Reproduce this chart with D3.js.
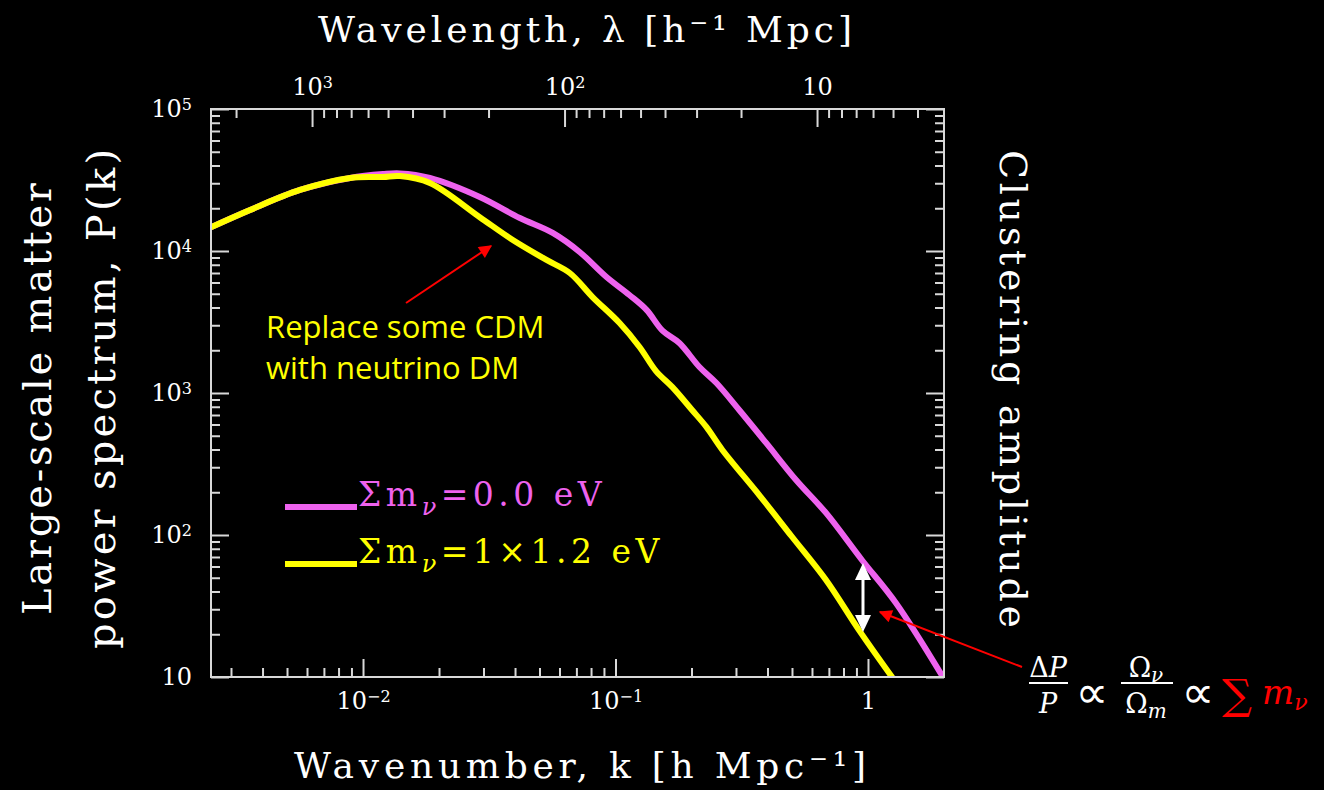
<!DOCTYPE html>
<html lang="en">
<head>
  <meta charset="UTF-8">
  <title>Matter power spectrum</title>
  <script src="https://d3js.org/d3.v7.min.js"></script>
</head>
<style>
  body{
    margin:0;
    background:#000;
  }
</style>
<body>
<div id="chart"></div>
<script>
// power spectrum, k in h/Mpc, P(k)
var kNoNu = [0.00251,0.00357,0.00563,0.00889,0.0120,0.0140,0.0184,0.0290,0.0418,0.0564,0.0721,0.0921,0.1135,0.1327,0.1535,0.179,0.215,0.251,0.309,0.395,0.519,0.682,0.946,1.29,1.98];
var pNoNu = [14750,19450,26900,32700,34800,35200,32700,24000,17060,13400,9840,6560,4900,3850,2750,2250,1525,1175,759,445,244,143,66.7,33.2,10];

var kNu = [0.00251,0.00357,0.00563,0.00889,0.0120,0.0140,0.0184,0.0290,0.0392,0.0533,0.0659,0.0811,0.1038,0.1245,0.145,0.168,0.201,0.229,0.265,0.371,0.501,0.682,0.921,1.245];
var pNu = [14750,19450,26900,32700,33200,33700,30100,17300,11950,8650,7000,4740,3110,2110,1420,1100,759,577,397,191,96.8,48.2,21.4,10];

var seriesNames = ["\u03a3m", "\u03a3m"];
var seriesTails = ["=0.0 eV", "=1\u00d71.2 eV"];
var seriesColours = ["#ee62ee", "#ffff00"];

// tick values, labels as [mantissa, exponent]
var kMajor = [0.01, 0.1, 1];
var kMajorLabels = [["10", "\u22122"], ["10", "\u22121"], ["1", ""]];
var lamMajor = [1000, 100, 10];
var lamMajorLabels = [["10", "3"], ["10", "2"], ["10", ""]];
var pMajor = [10, 100, 1000, 10000, 100000];
var pMajorLabels = [["10", ""], ["10", "2"], ["10", "3"], ["10", "4"], ["10", "5"]];

function minors(lo, hi){
  var out = [];
  for (var e = -4; e <= 5; e++){
    for (var m = 2; m <= 9; m++){
      var v = m * Math.pow(10, e);
      if (v > lo && v < hi) out.push(v);
    }
  }
  return out;
}

var width = 1324, height = 790;
// plot frame (don't call these top/left, window.top is taken)
var fLeft = 211, fRight = 944, fTop = 109, fBottom = 677;
var axisColour = "#d9d9d9";
var serif = "DejaVu Serif";

var svg = d3.select("#chart").append("svg")
  .attr("width", width)
  .attr("height", height)
  .attr("font-family", serif)
  .style("background", "#000");

var kMin = 0.0025, kMax = 2;
var x = d3.scaleLog().domain([kMin, kMax]).range([fLeft, fRight]);
var xTop = d3.scaleLog().domain([2*Math.PI/kMin, 2*Math.PI/kMax]).range([fLeft, fRight]);
var y = d3.scaleLog().domain([10, 100000]).range([fBottom, fTop]);

// clip the curves to the frame
svg.append("clipPath").attr("id", "frameClip")
  .append("rect")
    .attr("x", fLeft).attr("y", fTop)
    .attr("width", fRight - fLeft).attr("height", fBottom - fTop);

var line = d3.line()
  .x(function(d){ return x(d[0]); })
  .y(function(d){ return y(d[1]); })
  .curve(d3.curveCatmullRom.alpha(0.5));

var curves = [d3.zip(kNoNu, pNoNu), d3.zip(kNu, pNu)];
svg.append("g").attr("clip-path", "url(#frameClip)")
  .selectAll("path")
  .data(curves)
  .enter().append("path")
    .attr("d", line)
    .attr("fill", "none")
    .attr("stroke", function(d, i){ return seriesColours[i]; })
    .attr("stroke-width", 6)
    .attr("stroke-linecap", "round");

// axes: ticks point inward
function styleAxis(g){
  g.select(".domain").remove();
  g.selectAll("line").attr("stroke", axisColour).attr("stroke-width", 2);
  g.selectAll("text").attr("fill", "#ffffff").attr("font-family", serif).attr("font-size", 24);
}
// swap plain labels for mantissa + raised exponent
function powerLabels(labels){
  return function(g){
    g.selectAll(".tick text").each(function(d, i){
      var t = d3.select(this).text("");
      t.append("tspan").text(labels[i][0]);
      if (labels[i][1]) {
        t.append("tspan").attr("dy", "-0.45em").attr("font-size", 16).text(labels[i][1]);
      }
    });
  };
}
function noLabel(){ return ""; }

// bottom
svg.append("g").attr("transform", "translate(0," + fBottom + ")")
  .call(d3.axisBottom(x).tickValues(minors(kMin, kMax)).tickSizeInner(-9).tickSizeOuter(0).tickFormat(noLabel))
  .call(styleAxis);
svg.append("g").attr("transform", "translate(0," + fBottom + ")")
  .call(d3.axisBottom(x).tickValues(kMajor).tickSizeInner(-18).tickSizeOuter(0).tickPadding(15))
  .call(styleAxis)
  .call(powerLabels(kMajorLabels));

// top (wavelength)
svg.append("g").attr("transform", "translate(0," + fTop + ")")
  .call(d3.axisTop(xTop).tickValues(minors(2*Math.PI/kMax, 2*Math.PI/kMin)).tickSizeInner(-9).tickSizeOuter(0).tickFormat(noLabel))
  .call(styleAxis);
svg.append("g").attr("transform", "translate(0," + fTop + ")")
  .call(d3.axisTop(xTop).tickValues(lamMajor).tickSizeInner(-18).tickSizeOuter(0).tickPadding(14))
  .call(styleAxis)
  .call(powerLabels(lamMajorLabels));

// left
svg.append("g").attr("transform", "translate(" + fLeft + ",0)")
  .call(d3.axisLeft(y).tickValues(minors(10, 100000)).tickSizeInner(-9).tickSizeOuter(0).tickFormat(noLabel))
  .call(styleAxis);
svg.append("g").attr("transform", "translate(" + fLeft + ",0)")
  .call(d3.axisLeft(y).tickValues(pMajor).tickSizeInner(-18).tickSizeOuter(0).tickPadding(19))
  .call(styleAxis)
  .call(powerLabels(pMajorLabels));

// right (no labels)
svg.append("g").attr("transform", "translate(" + fRight + ",0)")
  .call(d3.axisRight(y).tickValues(minors(10, 100000)).tickSizeInner(-9).tickSizeOuter(0).tickFormat(noLabel))
  .call(styleAxis);
svg.append("g").attr("transform", "translate(" + fRight + ",0)")
  .call(d3.axisRight(y).tickValues(pMajor).tickSizeInner(-18).tickSizeOuter(0).tickFormat(noLabel))
  .call(styleAxis);

// frame
svg.append("rect")
  .attr("x", fLeft).attr("y", fTop)
  .attr("width", fRight - fLeft).attr("height", fBottom - fTop)
  .attr("fill", "none")
  .attr("stroke", axisColour)
  .attr("stroke-width", 2);

// axis titles
svg.append("text")
  .attr("x", 585).attr("y", 42)
  .attr("text-anchor", "middle")
  .attr("fill", "#fff").attr("font-size", 36)
  .attr("textLength", 534).attr("lengthAdjust", "spacing")
  .text("Wavelength, \u03bb [h\u207b\u00b9 Mpc]");

svg.append("text")
  .attr("x", 580).attr("y", 778)
  .attr("text-anchor", "middle")
  .attr("fill", "#fff").attr("font-size", 36)
  .attr("textLength", 572).attr("lengthAdjust", "spacing")
  .text("Wavenumber, k [h Mpc\u207b\u00b9]");

svg.append("text")
  .attr("transform", "translate(51,399) rotate(-90)")
  .attr("text-anchor", "middle")
  .attr("fill", "#fff").attr("font-size", 40)
  .attr("textLength", 432).attr("lengthAdjust", "spacing")
  .text("Large-scale matter");

svg.append("text")
  .attr("transform", "translate(115,399) rotate(-90)")
  .attr("text-anchor", "middle")
  .attr("fill", "#fff").attr("font-size", 40)
  .attr("textLength", 500).attr("lengthAdjust", "spacing")
  .text("power spectrum, P(k)");

svg.append("text")
  .attr("transform", "translate(1000,389) rotate(90)")
  .attr("text-anchor", "middle")
  .attr("fill", "#fff").attr("font-size", 38)
  .attr("textLength", 478).attr("lengthAdjust", "spacing")
  .text("Clustering amplitude");

// legend
var legendY = [507, 564];
var legend = svg.selectAll(".legend")
  .data(seriesNames)
  .enter().append("g").attr("class", "legend");
legend.append("line")
  .attr("x1", 285).attr("x2", 357)
  .attr("y1", function(d, i){ return legendY[i]; })
  .attr("y2", function(d, i){ return legendY[i]; })
  .attr("stroke", function(d, i){ return seriesColours[i]; })
  .attr("stroke-width", 6);
var legendText = legend.append("text")
  .attr("x", 358)
  .attr("y", function(d, i){ return legendY[i] - 1; })
  .attr("fill", function(d, i){ return seriesColours[i]; })
  .attr("font-size", 33)
  .attr("letter-spacing", 4.5);
legendText.append("tspan").text(function(d){ return d; });
legendText.append("tspan").attr("dy", 9).attr("font-size", 24).attr("font-style", "italic").text("\u03bd");
legendText.append("tspan").attr("dy", -9).text(function(d, i){ return seriesTails[i]; });

// annotation text
var note = svg.append("text")
  .attr("fill", "#ffff00")
  .attr("font-family", "Open Sans")
  .attr("font-size", 31);
note.append("tspan").attr("x", 266).attr("y", 338).text("Replace some CDM");
note.append("tspan").attr("x", 266).attr("y", 379).text("with neutrino DM");

// arrows
var defs = svg.append("defs");
defs.append("marker")
  .attr("id", "redHead")
  .attr("viewBox", "0 0 10 10")
  .attr("refX", 9).attr("refY", 5)
  .attr("markerWidth", 16).attr("markerHeight", 13)
  .attr("markerUnits", "userSpaceOnUse")
  .attr("orient", "auto")
  .append("path").attr("d", "M0,0 L10,5 L0,10 Z").attr("fill", "#ff0000");

svg.append("line")
  .attr("x1", 406).attr("y1", 303).attr("x2", 491).attr("y2", 246)
  .attr("stroke", "#ff0000").attr("stroke-width", 2)
  .attr("marker-end", "url(#redHead)");
svg.append("line")
  .attr("x1", 1022).attr("y1", 667).attr("x2", 880).attr("y2", 612)
  .attr("stroke", "#ff0000").attr("stroke-width", 2)
  .attr("marker-end", "url(#redHead)");

// white double arrow at k = 1
var ax = x(1) - 5;
svg.append("line")
  .attr("x1", ax).attr("y1", 575).attr("x2", ax).attr("y2", 620)
  .attr("stroke", "#fff").attr("stroke-width", 3);
svg.append("path")
  .attr("d", "M" + ax + ",563 L" + (ax + 8) + ",580 L" + (ax - 8) + ",580 Z")
  .attr("fill", "#fff");
svg.append("path")
  .attr("d", "M" + ax + ",632 L" + (ax + 8) + ",615 L" + (ax - 8) + ",615 Z")
  .attr("fill", "#fff");

// formula
var fm = svg.append("g").attr("font-family", serif).attr("font-size", 27).attr("fill", "#fff");
fm.append("text").attr("x", 1048).attr("y", 677).attr("text-anchor", "middle")
  .html('<tspan font-style="normal">\u0394</tspan><tspan font-style="italic">P</tspan>');
fm.append("line").attr("x1", 1029).attr("x2", 1068).attr("y1", 683).attr("y2", 683)
  .attr("stroke", "#fff").attr("stroke-width", 2);
fm.append("text").attr("x", 1048).attr("y", 713).attr("text-anchor", "middle")
  .attr("font-style", "italic").text("P");
fm.append("text").attr("x", 1092).attr("y", 708).attr("text-anchor", "middle")
  .attr("font-family", "DejaVu Sans").attr("font-size", 46).text("\u221d");
fm.append("text").attr("x", 1146).attr("y", 677).attr("text-anchor", "middle")
  .html('\u03a9<tspan font-style="italic" font-size="20" dy="5">\u03bd</tspan>');
fm.append("line").attr("x1", 1121).attr("x2", 1173).attr("y1", 683).attr("y2", 683)
  .attr("stroke", "#fff").attr("stroke-width", 2);
fm.append("text").attr("x", 1146).attr("y", 713).attr("text-anchor", "middle")
  .html('\u03a9<tspan font-style="italic" font-size="20" dy="5">m</tspan>');
fm.append("text").attr("x", 1198).attr("y", 708).attr("text-anchor", "middle")
  .attr("font-family", "DejaVu Sans").attr("font-size", 46).text("\u221d");
fm.append("text").attr("x", 1222).attr("y", 709).attr("fill", "#ff0000").attr("font-size", 42).text("\u2211");
fm.append("text").attr("x", 1262).attr("y", 704).attr("fill", "#ff0000").attr("font-size", 34).attr("font-style", "italic")
  .html('m<tspan font-size="22" dy="6">\u03bd</tspan>');
</script>
</body>
</html>
